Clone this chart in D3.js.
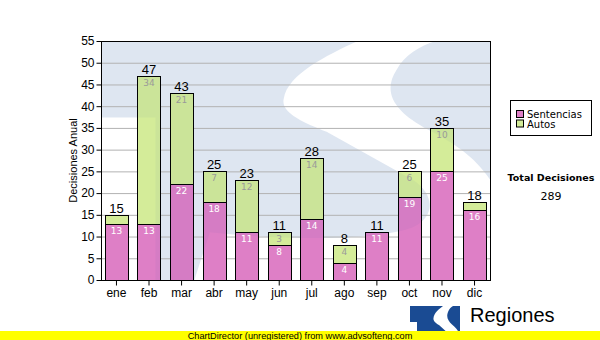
<!DOCTYPE html>
<html>
<head>
<meta charset="utf-8">
<script src="https://cdn.jsdelivr.net/npm/d3@7"></script>
<style>
  body { margin: 0; background: #fff; }
  text { font-family: "Liberation Sans", Arial, sans-serif; }
</style>
</head>
<body>
<svg id="chart" width="600" height="340"></svg>
<script>
// Monthly decisions, stacked: sentencias (bottom) + autos (top)
const months = ["ene", "feb", "mar", "abr", "may", "jun", "jul", "ago", "sep", "oct", "nov", "dic"];
const sentencias = [13, 13, 22, 18, 11, 8, 14, 4, 11, 19, 25, 16];
const autos = [2, 34, 21, 7, 12, 3, 14, 4, 0, 6, 10, 2];
const yTicks = [0, 5, 10, 15, 20, 25, 30, 35, 40, 45, 50, 55];
const seriesNames = ["Sentencias", "Autos"];

const colors = { Sentencias: "#de7fc6", Autos: "#d4ec99" };
const inner = { Sentencias: "#ffffff", Autos: "#9a9a9a" };

const svg = d3.select("#chart");
const plot = { left: 101, right: 490, top: 41, bottom: 280 };

const x = d3.scaleBand().domain(months).range([plot.left, plot.right])
  .paddingInner(0.29).paddingOuter(0.12);
const y = d3.scaleLinear().domain([0, 55]).range([plot.bottom, plot.top]);

const rows = months.map((m, i) => ({ month: m, Sentencias: sentencias[i], Autos: autos[i] }));
const stacked = d3.stack().keys(seriesNames)(rows);
const totals = rows.map(r => r.Sentencias + r.Autos);

// Logo shape in a 100x100 box: blue field with a notched lower-left corner and a white S
const logoField = "M0,0 H100 V100 H14 V32 H0 Z";
const logoS = "M66,0 C58,6 48,14 47,24 C46,30 52,34 58,38 L80,58 C86,64 86,74 80,78 " +
  "C72,83 50,84 28,80 L24,100 L100,100 L100,58 C96,48 90,42 84,37 C76,30 72,22 76,12 C78,6 82,2 86,0 Z";

const defs = svg.append("defs");
const mask = defs.append("mask").attr("id", "logoCut").attr("maskContentUnits", "userSpaceOnUse");
mask.append("rect").attr("x", -10).attr("y", -10).attr("width", 120).attr("height", 120).attr("fill", "#fff");
mask.append("path").attr("d", logoS).attr("fill", "#000");

const plotTransform = `translate(${plot.left},${plot.top}) scale(${(plot.right - plot.left) / 100},${(plot.bottom - plot.top) / 100})`;

// plot background with a faint logo watermark
svg.append("rect").attr("x", plot.left).attr("y", plot.top)
  .attr("width", plot.right - plot.left).attr("height", plot.bottom - plot.top).attr("fill", "#fff");
svg.append("g").attr("transform", plotTransform)
  .append("path").attr("d", logoField).attr("fill", "#003c96").attr("fill-opacity", 0.13)
  .attr("mask", "url(#logoCut)");

// grid lines
svg.append("g").selectAll("line").data(yTicks.filter(t => t > 0 && t < 55)).join("line")
  .attr("x1", plot.left).attr("x2", plot.right)
  .attr("y1", d => y(d) + 0.5).attr("y2", d => y(d) + 0.5)
  .attr("stroke", "#b2b2b2").attr("stroke-width", 1);

// stacked bars
const barX = d => Math.round(x(d.data.month)) + 0.5;
const barY = d => Math.round(y(d[1])) + 0.5;
const barH = d => Math.round(y(d[0])) - Math.round(y(d[1]));
const visible = stacked.map(layer => ({ key: layer.key, segs: layer.filter(s => s[1] - s[0] > 0) }));

const clip = defs.append("clipPath").attr("id", "barClip");
visible.forEach(l => l.segs.forEach(d => {
  clip.append("rect").attr("x", barX(d)).attr("y", barY(d)).attr("width", Math.round(x.bandwidth())).attr("height", barH(d));
}));

const layers = svg.append("g").selectAll("g").data(visible).join("g")
  .attr("fill", d => colors[d.key]);
layers.selectAll("rect").data(d => d.segs).join("rect")
  .attr("x", barX).attr("y", barY)
  .attr("width", Math.round(x.bandwidth()))
  .attr("height", barH)
  .attr("stroke", "#000").attr("stroke-width", 1);

// the watermark shows faintly through the bars
svg.append("g").attr("clip-path", "url(#barClip)")
  .append("g").attr("transform", plotTransform)
  .append("path").attr("d", logoField).attr("fill", "#003c96").attr("fill-opacity", 0.04)
  .attr("mask", "url(#logoCut)");

// plot frame
svg.append("rect").attr("x", plot.left + 0.5).attr("y", plot.top + 0.5)
  .attr("width", plot.right - plot.left).attr("height", plot.bottom - plot.top)
  .attr("fill", "none").attr("stroke", "#000").attr("stroke-width", 1);

// segment value labels
stacked.forEach(layer => {
  svg.append("g").selectAll("text")
    .data(layer.filter(s => y(s[0]) - y(s[1]) >= 12))
    .join("text")
    .attr("x", d => x(d.data.month) + x.bandwidth() / 2)
    .attr("y", d => y(d[1]) + 10)
    .attr("text-anchor", "middle")
    .style("font-family", "'DejaVu Sans', Verdana, sans-serif")
    .attr("font-size", 9)
    .attr("fill", inner[layer.key])
    .text(d => d[1] - d[0]);
});

// totals above bars
svg.append("g").selectAll("text").data(rows).join("text")
  .attr("x", d => x(d.month) + x.bandwidth() / 2)
  .attr("y", (d, i) => y(totals[i]) - 2)
  .attr("text-anchor", "middle")
  .attr("font-size", 13)
  .attr("fill", "#000")
  .text((d, i) => totals[i]);

// axes
const yAxis = svg.append("g").attr("transform", `translate(${plot.left + 0.5},0)`)
  .call(d3.axisLeft(y).tickValues(yTicks).tickSize(5).tickPadding(2).tickSizeOuter(0));
yAxis.select(".domain").remove();
yAxis.selectAll("text").attr("font-size", 12).attr("fill", "#000")
  .style("font-family", "'Liberation Sans', Arial, sans-serif");

const xAxis = svg.append("g").attr("transform", `translate(0,${plot.bottom + 0.5})`)
  .call(d3.axisBottom(x).tickSize(5).tickPadding(3).tickSizeOuter(0));
xAxis.select(".domain").remove();
xAxis.selectAll("text").attr("font-size", 12).attr("fill", "#000")
  .style("font-family", "'Liberation Sans', Arial, sans-serif");

// y axis title
svg.append("text")
  .attr("transform", `translate(77,${(plot.top + plot.bottom) / 2}) rotate(-90)`)
  .attr("text-anchor", "middle")
  .attr("font-size", 11)
  .text("Decisiones Anual");

// legend
const lg = svg.append("g");
lg.append("rect").attr("x", 510.5).attr("y", 100.5).attr("width", 81).attr("height", 35)
  .attr("fill", "#fff").attr("stroke", "#000");
seriesNames.forEach((name, i) => {
  lg.append("rect").attr("x", 516.5).attr("y", 110.5 + i * 9.5).attr("width", 7).attr("height", 7)
    .attr("fill", colors[name]).attr("stroke", "#000");
  lg.append("text").attr("x", 527).attr("y", 118 + i * 9.5)
    .style("font-family", "'DejaVu Sans', Verdana, sans-serif")
    .attr("font-size", 10).text(name);
});

// grand total
const grandTotal = d3.sum(totals);
svg.append("text").attr("x", 551).attr("y", 181).attr("text-anchor", "middle")
  .style("font-family", "'DejaVu Sans', Verdana, sans-serif")
  .attr("font-size", 9.5).attr("font-weight", "bold").text("Total Decisiones");
svg.append("text").attr("x", 551).attr("y", 200).attr("text-anchor", "middle")
  .style("font-family", "'DejaVu Sans', Verdana, sans-serif")
  .attr("font-size", 11).text(grandTotal);

// brand logo and name
const logo = svg.append("g").attr("transform", "translate(410,306) scale(0.5,0.5)");
logo.append("path").attr("d", logoField).attr("fill", "#1a4b93").attr("mask", "url(#logoCut)");
svg.append("text").attr("x", 470).attr("y", 322).attr("font-size", 20).text("Regiones");

// footer strip
svg.append("rect").attr("x", 0).attr("y", 331).attr("width", 600).attr("height", 9).attr("fill", "#ffff00");
svg.append("text").attr("x", 300).attr("y", 338.5).attr("text-anchor", "middle")
  .attr("font-size", 9.2).text("ChartDirector (unregistered) from www.advsofteng.com");
</script>
</body>
</html>
